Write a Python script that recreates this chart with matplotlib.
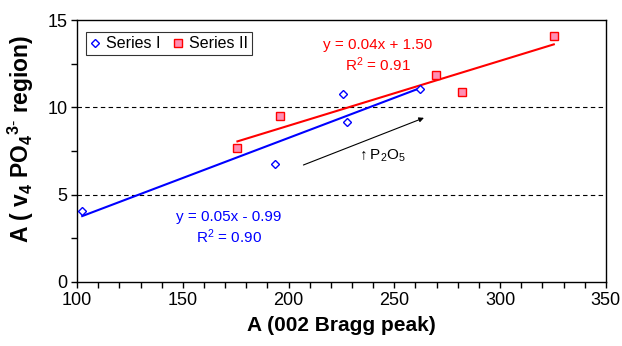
import numpy as np
import matplotlib.pyplot as plt

plt.rcParams['font.family'] = ['Liberation Sans', 'DejaVu Sans']
plt.rcParams['mathtext.fontset'] = 'custom'
plt.rcParams['mathtext.rm'] = 'Liberation Sans'
plt.rcParams['mathtext.it'] = 'Liberation Sans:italic'
plt.rcParams['mathtext.bf'] = 'Liberation Sans:bold'

# peak areas
bragg_1 = [102.4, 193.6, 225.6, 227.5, 262.2]
po4_1 = [4.06, 6.75, 10.76, 9.18, 11.03]
bragg_2 = [175.8, 196.1, 269.5, 282.1, 325.4]
po4_2 = [7.67, 9.48, 11.85, 10.9, 14.1]

fig = plt.figure(figsize=(6.22, 3.46), dpi=100)
ax = fig.add_axes([0.124, 0.185, 0.850, 0.757])

ax.plot(bragg_1, po4_1, 'D', ms=4.5, mfc='white', mec='#0000FF', mew=1.0,
        label='Series I', zorder=4)
ax.plot(bragg_2, po4_2, 's', ms=6, mfc='#FF8FB3', mec='#FF0000', mew=1.0,
        label='Series II', zorder=4)

# linear trend lines over each series' range
for xs, ys, c in [(bragg_1, po4_1, '#0000FF'), (bragg_2, po4_2, '#FF0000')]:
    m, b = np.polyfit(xs, ys, 1)
    xx = np.array([min(xs), max(xs)])
    ax.plot(xx, m * xx + b, color=c, lw=1.5, zorder=3)

ax.text(242, 13.6, 'y = 0.04x + 1.50', color='#FF0000', fontsize=11, ha='center', va='center')
ax.text(242, 12.45, 'R$^2$ = 0.91', color='#FF0000', fontsize=11, ha='center', va='center')
ax.text(171.7, 3.74, 'y = 0.05x - 0.99', color='#0000FF', fontsize=11, ha='center', va='center')
ax.text(171.7, 2.6, 'R$^2$ = 0.90', color='#0000FF', fontsize=11, ha='center', va='center')

ax.annotate('', xy=(264, 9.4), xytext=(207, 6.7),
            arrowprops=dict(arrowstyle='-|>', color='black', lw=0.8,
                            mutation_scale=7, shrinkA=0, shrinkB=0))
ax.text(232.5, 7.25, r'$\uparrow$P$_2$O$_5$', fontsize=11, ha='left', va='center')

for yv in [5, 10]:
    ax.axhline(yv, color='black', ls=(0, (4, 3)), lw=0.8, zorder=1)

ax.set_xlim(100, 350)
ax.set_ylim(0, 15)
ax.set_xticks(np.arange(100, 351, 50))
ax.set_xticks(np.arange(100, 351, 10), minor=True)
ax.set_yticks([0, 5, 10, 15])
ax.set_yticks(np.arange(0, 15.1, 2.5), minor=True)
ax.tick_params(which='both', direction='out', length=4, width=1, labelsize=13, pad=3)
for s in ax.spines.values():
    s.set_linewidth(1.0)

ax.set_xlabel('A (002 Bragg peak)', fontsize=15, fontweight='bold', labelpad=5)
ax.set_ylabel(r'A ( $\mathbf{v}_\mathbf{4}$ PO$_\mathbf{4}$$^\mathbf{3\text{-}}$ region)',
              fontsize=16.5, fontweight='bold')
ax.yaxis.set_label_coords(-0.077, 0.545)

leg = ax.legend(loc='upper left', bbox_to_anchor=(0.016, 0.954), fontsize=11.5,
                frameon=True, fancybox=False, edgecolor='black', handlelength=0.7,
                handletextpad=0.3, borderpad=0.25, ncol=2, columnspacing=0.8,
                borderaxespad=0)
leg.get_frame().set_linewidth(0.8)

fig.savefig('out.png', dpi=100)
